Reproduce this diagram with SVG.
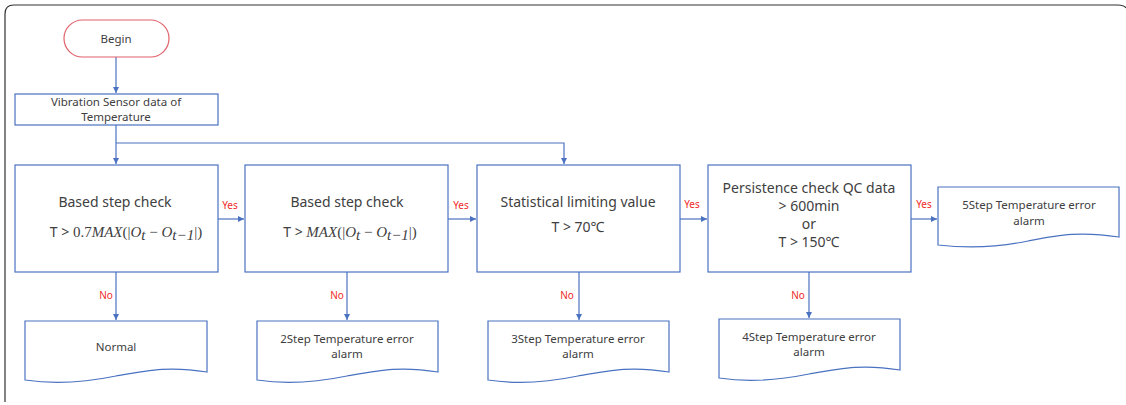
<svg xmlns="http://www.w3.org/2000/svg" width="1126" height="405" viewBox="0 0 1126 405">
<style>
.box{fill:#fff;stroke:#4a72c0;stroke-width:1.2}
.pill{fill:#fff;stroke:#e0606a;stroke-width:1.2}
.t{font-family:"Noto Sans","Open Sans",sans-serif;fill:#404040;text-anchor:middle}
.s{font-size:11.5px}
.m{font-size:14px}
.lbl{font-family:"Noto Sans",sans-serif;font-size:10px;fill:#f02a2a;text-anchor:middle}
.mi{font-family:"Liberation Serif",serif;font-style:italic;font-size:15px}
.mr{font-family:"Liberation Serif",serif;font-size:15px}
.c{fill:none;stroke:#4a72c0;stroke-width:1.2}
</style>
<defs>
<marker id="ah" viewBox="0 0 10 10" refX="10" refY="5" markerWidth="6" markerHeight="6" orient="auto" markerUnits="userSpaceOnUse">
<path d="M0,0 L10,5 L0,10 z" fill="#4a72c0"/>
</marker>
</defs>
<rect width="1126" height="405" fill="#fff"/>
<path d="M5,402 L5,14 Q5,5 14,5 L1118,5 Q1124,5 1126,8" fill="none" stroke="#333" stroke-width="1.2"/>

<g id="connectors">
<path class="c" d="M116,57 V93" marker-end="url(#ah)"/>
<path class="c" d="M116,125 V164" marker-end="url(#ah)"/>
<path class="c" d="M116,143 H564 V164" marker-end="url(#ah)"/>
<path class="c" d="M218,219 H244" marker-end="url(#ah)"/>
<path class="c" d="M448,219 H476" marker-end="url(#ah)"/>
<path class="c" d="M680,219 H707" marker-end="url(#ah)"/>
<path class="c" d="M911,219 H937" marker-end="url(#ah)"/>
<path class="c" d="M116,272 V320" marker-end="url(#ah)"/>
<path class="c" d="M347,272 V320" marker-end="url(#ah)"/>
<path class="c" d="M579,272 V320" marker-end="url(#ah)"/>
<path class="c" d="M809,272 V318" marker-end="url(#ah)"/>
<text class="lbl" x="230" y="209">Yes</text>
<text class="lbl" x="461" y="209">Yes</text>
<text class="lbl" x="692" y="208">Yes</text>
<text class="lbl" x="924" y="208">Yes</text>
<text class="lbl" x="106" y="299">No</text>
<text class="lbl" x="337" y="299">No</text>
<text class="lbl" x="567" y="299">No</text>
<text class="lbl" x="798" y="299">No</text>
</g>

<g id="begin">
<rect class="pill" x="64" y="20" width="105" height="37" rx="18.5"/>
<text class="t s" x="116" y="43">Begin</text>
</g>

<g id="sensor">
<rect class="box" x="15" y="94" width="203" height="31"/>
<text class="t s" x="116" y="106">Vibration Sensor data of</text>
<text class="t s" x="116" y="121">Temperature</text>
</g>

<g id="check1">
<rect class="box" x="15" y="165" width="203" height="107"/>
<text class="t m" x="115" y="207">Based step check</text>
<text class="t m" x="126" y="237">T &gt; <tspan class="mr">0.7</tspan><tspan class="mi">MAX</tspan><tspan class="mr">(|</tspan><tspan class="mi">O</tspan><tspan class="mi" font-size="11" dy="3">t</tspan><tspan class="mr" dy="-3"> − </tspan><tspan class="mi">O</tspan><tspan class="mi" font-size="11" dy="3">t−1</tspan><tspan class="mr" dy="-3">|)</tspan></text>
</g>

<g id="check2">
<rect class="box" x="245" y="165" width="203" height="107"/>
<text class="t m" x="347" y="207">Based step check</text>
<text class="t m" x="350" y="237">T &gt;  <tspan class="mi">MAX</tspan><tspan class="mr">(|</tspan><tspan class="mi">O</tspan><tspan class="mi" font-size="11" dy="3">t</tspan><tspan class="mr" dy="-3"> − </tspan><tspan class="mi">O</tspan><tspan class="mi" font-size="11" dy="3">t−1</tspan><tspan class="mr" dy="-3">|)</tspan></text>
</g>

<g id="check3">
<rect class="box" x="477" y="165" width="203" height="107"/>
<text class="t m" x="578" y="207">Statistical limiting value</text>
<text class="t m" x="578" y="232">T &gt; 70℃</text>
</g>

<g id="check4">
<rect class="box" x="708" y="165" width="203" height="107"/>
<text class="t m" x="809" y="193">Persistence check QC data</text>
<text class="t m" x="809" y="211">&gt; 600min</text>
<text class="t m" x="809" y="229">or</text>
<text class="t m" x="809" y="247">T &gt; 150℃</text>
</g>

<g id="alarm5">
<path class="box" d="M938,187 H1119 V237 C1080,231 1060,235 1028,241 C995,248 965,248 938,245 Z"/>
<text class="t s" x="1029" y="209">5Step Temperature error</text>
<text class="t s" x="1029" y="225">alarm</text>
</g>

<g id="normal">
<path class="box" d="M25,321 H207 V372 C170,366 150,370 116,376 C82,383 52,384 25,380 Z"/>
<text class="t s" x="116" y="351">Normal</text>
</g>

<g id="alarm2">
<path class="box" d="M257,321 H438 V372 C401,366 381,370 347,376 C313,383 283,384 257,380 Z"/>
<text class="t s" x="347" y="343">2Step Temperature error</text>
<text class="t s" x="347" y="358">alarm</text>
</g>

<g id="alarm3">
<path class="box" d="M488,321 H669 V372 C632,366 612,370 578,376 C544,383 514,384 488,380 Z"/>
<text class="t s" x="578" y="343">3Step Temperature error</text>
<text class="t s" x="578" y="358">alarm</text>
</g>

<g id="alarm4">
<path class="box" d="M719,319 H900 V370 C863,364 843,368 809,374 C775,381 745,382 719,378 Z"/>
<text class="t s" x="809" y="341">4Step Temperature error</text>
<text class="t s" x="809" y="356">alarm</text>
</g>
</svg>
